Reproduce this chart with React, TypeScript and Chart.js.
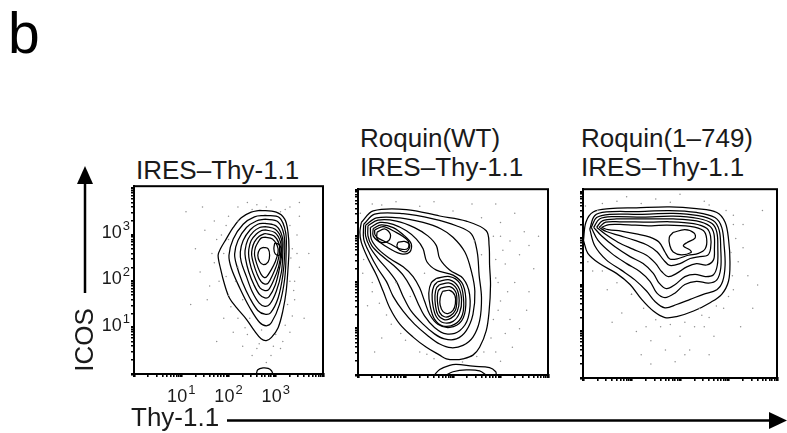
import { useEffect, useRef } from "react";
import { Chart, registerables } from "chart.js";

Chart.register(...registerables);

type Pt = [number, number];

// Axes are in decades of fluorescence: 0 = 10^0 ... 4 = 10^4
const DECADES = [0, 1, 2, 3];
const MINOR_STEPS = [1, 2, 3, 4, 5, 6, 7, 8, 9];
const LABELED_DECADES = [1, 2, 3];
const TICK_LABEL_BASE = "10";
const TICK_LABEL_EXPONENTS = ["1", "2", "3"];

const PANEL_LETTER = "b";
const TITLES_1 = ["IRES–Thy-1.1"];
const TITLES_2 = ["Roquin(WT)", "IRES–Thy-1.1"];
const TITLES_3 = ["Roquin(1–749)", "IRES–Thy-1.1"];
const Y_TITLE = "ICOS";
const X_TITLE = "Thy-1.1";

// ---------- Panel 1: IRES–Thy-1.1 ----------
const P1_CONTOURS: Pt[][] = [
  [[2.66,3.53],[3.01,3.49],[3.19,3.34],[3.26,3.05],[3.28,2.70],[3.26,2.28],[3.22,1.78],[3.15,1.36],[3.05,1.00],[2.91,0.79],[2.80,0.72],[2.69,0.76],[2.55,0.93],[2.38,1.18],[2.17,1.43],[2.02,1.64],[1.92,1.92],[1.83,2.28],[1.78,2.56],[1.83,2.70],[1.95,2.91],[2.10,3.16],[2.27,3.37],[2.48,3.49]],
  [[2.77,3.42],[3.08,3.37],[3.21,3.05],[3.22,2.63],[3.19,2.06],[3.08,1.50],[2.91,1.11],[2.80,1.04],[2.66,1.11],[2.45,1.43],[2.24,1.85],[2.06,2.28],[2.01,2.56],[2.10,2.91],[2.31,3.23],[2.55,3.39]],
  [[2.77,3.34],[3.05,3.28],[3.17,3.02],[3.19,2.63],[3.15,2.13],[3.05,1.64],[2.89,1.32],[2.77,1.29],[2.62,1.37],[2.45,1.64],[2.29,1.99],[2.17,2.35],[2.13,2.59],[2.20,2.88],[2.38,3.16],[2.59,3.30]],
  [[2.77,3.25],[3.01,3.19],[3.14,2.95],[3.15,2.63],[3.12,2.20],[3.01,1.78],[2.87,1.50],[2.77,1.46],[2.65,1.53],[2.50,1.78],[2.38,2.10],[2.27,2.42],[2.25,2.63],[2.31,2.88],[2.46,3.11],[2.62,3.23]],
  [[2.77,3.18],[2.99,3.12],[3.12,2.91],[3.13,2.63],[3.08,2.28],[2.99,1.92],[2.86,1.67],[2.77,1.64],[2.66,1.71],[2.54,1.92],[2.43,2.20],[2.36,2.49],[2.35,2.66],[2.41,2.90],[2.53,3.07],[2.66,3.16]],
  [[2.77,3.11],[2.98,3.05],[3.10,2.85],[3.11,2.63],[3.06,2.31],[2.96,2.03],[2.85,1.82],[2.77,1.80],[2.67,1.85],[2.57,2.05],[2.48,2.29],[2.43,2.52],[2.43,2.69],[2.48,2.88],[2.59,3.02],[2.69,3.09]],
  [[2.77,3.03],[2.96,2.98],[3.07,2.81],[3.08,2.63],[3.03,2.38],[2.93,2.13],[2.84,1.96],[2.77,1.94],[2.69,1.99],[2.60,2.17],[2.53,2.38],[2.49,2.56],[2.50,2.70],[2.55,2.85],[2.65,2.97]],
  [[2.77,2.95],[2.93,2.91],[3.03,2.77],[3.05,2.63],[2.99,2.42],[2.90,2.24],[2.81,2.10],[2.76,2.08],[2.69,2.15],[2.62,2.31],[2.57,2.47],[2.55,2.59],[2.57,2.73],[2.63,2.85],[2.69,2.93]],
  [[2.74,2.73],[2.84,2.70],[2.87,2.56],[2.84,2.42],[2.74,2.36],[2.66,2.42],[2.62,2.56],[2.66,2.69]],
  [[2.98,2.83],[3.08,2.78],[3.12,2.66],[3.07,2.56],[2.99,2.59],[2.96,2.70]],
];
const P1_OPEN: Pt[][] = [
  [[2.59,0],[2.62,0.09],[2.73,0.13],[2.84,0.12],[2.91,0.07],[2.94,0]],
];
const P1_DOTS: Pt[] = [
  [1.5,3.1],[1.7,2.4],[1.6,1.9],[1.9,1.2],[2.1,0.9],[2.3,0.6],[2.5,0.4],[2.9,0.4],[3.3,0.9],[3.4,1.6],
  [3.5,2.3],[3.45,3.0],[3.3,3.6],[2.9,3.75],[2.4,3.7],[2.0,3.4],[1.3,2.7],[1.2,1.5],[1.75,0.7],[3.1,0.55],
  [3.6,1.2],[3.7,2.6],[2.2,3.6],[1.85,3.0],[1.95,2.1],[2.05,1.45],[2.35,1.0],[2.6,0.55],[3.15,0.7],[3.35,1.25],
  [3.4,2.0],[3.35,2.7],[3.2,3.55],[2.6,3.65],[1.7,3.3],[1.4,2.2],[2.2,2.3],[3.5,3.4],[1.1,3.5],[2.8,0.25],
  [1.9,2.6],[2.0,2.9],[2.15,2.0],[2.3,1.6],[2.45,1.2],[2.7,0.95],[3.0,0.85],[3.25,1.5],[3.3,2.0],[3.32,2.5],
  [3.3,3.2],[3.1,3.5],[2.8,3.6],[2.5,3.55],[2.2,3.3],[1.95,3.2],[1.75,2.9],[1.65,2.6],[1.8,2.0],[2.0,1.7],
  [2.2,1.2],[2.4,0.85],[2.65,0.65],[2.95,0.6],[3.2,1.05],[3.38,1.8],[3.45,2.6],[3.5,3.7],[1.55,1.6],[1.45,3.6],
];

// ---------- Panel 2: Roquin(WT) IRES–Thy-1.1 ----------
const P2_CONTOURS: Pt[][] = [
  [[0.07,3.30],[0.32,3.55],[1.02,3.58],[1.72,3.44],[2.28,3.33],[2.70,3.12],[2.76,2.80],[2.77,2.38],[2.79,1.95],[2.76,1.38],[2.70,0.96],[2.56,0.60],[2.42,0.43],[2.21,0.35],[2.04,0.33],[1.86,0.35],[1.72,0.43],[1.44,0.60],[1.16,0.82],[0.88,1.10],[0.67,1.45],[0.53,1.81],[0.39,2.16],[0.21,2.52],[0.07,2.87],[0.04,3.09]],
  [[0.12,3.26],[0.35,3.48],[0.95,3.49],[1.58,3.38],[2.07,3.23],[2.39,3.05],[2.51,2.66],[2.55,2.16],[2.60,1.67],[2.56,1.17],[2.42,0.82],[2.21,0.64],[1.96,0.59],[1.72,0.67],[1.47,0.85],[1.19,1.10],[0.95,1.38],[0.74,1.70],[0.60,2.02],[0.42,2.30],[0.25,2.62],[0.12,2.94]],
  [[0.16,3.24],[0.39,3.40],[0.88,3.40],[1.37,3.30],[1.75,3.16],[2.00,2.98],[2.25,2.66],[2.39,2.23],[2.46,1.81],[2.42,1.31],[2.28,0.96],[2.07,0.78],[1.82,0.78],[1.61,0.89],[1.37,1.10],[1.12,1.38],[0.95,1.70],[0.81,2.02],[0.63,2.27],[0.42,2.52],[0.25,2.77],[0.16,3.01]],
  [[0.21,3.23],[0.42,3.35],[0.81,3.33],[1.19,3.19],[1.47,3.01],[1.65,2.80],[1.72,2.52],[1.93,2.27],[2.21,2.09],[2.35,1.74],[2.32,1.24],[2.14,0.96],[1.86,0.89],[1.61,1.03],[1.40,1.28],[1.26,1.56],[1.12,1.88],[0.95,2.16],[0.74,2.38],[0.49,2.59],[0.29,2.80],[0.21,3.01]],
  [[0.26,3.19],[0.46,3.30],[0.74,3.26],[1.02,3.12],[1.23,2.94],[1.37,2.73],[1.45,2.45],[1.65,2.27],[2.00,2.16],[2.21,1.95],[2.27,1.52],[2.18,1.17],[1.93,1.03],[1.68,1.10],[1.51,1.31],[1.40,1.60],[1.30,1.88],[1.16,2.13],[0.95,2.34],[0.67,2.52],[0.42,2.73],[0.28,2.94]],
  [[0.32,3.17],[0.49,3.25],[0.74,3.19],[0.98,3.01],[1.12,2.84],[1.09,2.66],[0.91,2.62],[0.67,2.73],[0.46,2.87],[0.32,3.01]],
  [[0.35,3.14],[0.53,3.21],[0.74,3.12],[1.05,2.91],[1.05,2.74],[0.88,2.73],[0.67,2.84],[0.46,2.94],[0.36,3.03]],
  [[0.40,3.09],[0.56,3.16],[0.68,3.05],[0.65,2.91],[0.49,2.87],[0.40,2.96]],
  [[0.84,2.87],[0.98,2.89],[1.09,2.80],[1.02,2.67],[0.88,2.70],[0.82,2.79]],
  [[1.65,2.09],[1.93,2.13],[2.14,1.99],[2.22,1.67],[2.20,1.31],[2.04,1.10],[1.79,1.06],[1.61,1.21],[1.52,1.49],[1.49,1.77],[1.54,1.99]],
  [[1.68,2.02],[1.93,2.06],[2.11,1.91],[2.18,1.63],[2.14,1.35],[2.00,1.16],[1.80,1.13],[1.65,1.26],[1.58,1.49],[1.56,1.74],[1.60,1.93]],
  [[1.71,1.95],[1.93,1.99],[2.08,1.86],[2.13,1.61],[2.09,1.38],[1.96,1.23],[1.81,1.20],[1.68,1.31],[1.63,1.51],[1.62,1.72],[1.65,1.88]],
  [[1.74,1.88],[1.93,1.91],[2.06,1.79],[2.08,1.60],[2.05,1.40],[1.94,1.28],[1.82,1.26],[1.72,1.35],[1.68,1.52],[1.67,1.70],[1.69,1.82]],
  [[1.78,1.81],[1.93,1.83],[2.04,1.72],[2.05,1.54],[2.00,1.40],[1.89,1.33],[1.79,1.37],[1.73,1.51],[1.73,1.67]],
];
const P2_OPEN: Pt[][] = [
  [[1.61,0],[1.72,0.12],[1.93,0.21],[2.07,0.23],[2.42,0.19],[2.77,0.16],[2.90,0.07],[2.91,0]],
  [[1.86,0],[2.00,0.07],[2.28,0.11],[2.56,0.09],[2.70,0]],
];
const P2_DOTS: Pt[] = [
  [3.0,3.3],[3.2,2.9],[3.1,2.4],[3.3,2.0],[3.0,1.6],[3.2,1.2],[3.4,2.6],[3.5,3.1],[2.9,3.7],[2.4,3.7],
  [1.6,3.75],[0.8,3.75],[0.3,3.7],[0.1,2.2],[0.3,1.8],[0.6,1.3],[0.9,0.9],[1.3,0.5],[1.6,0.35],[2.9,0.5],
  [3.1,0.9],[3.6,1.8],[3.7,2.3],[3.3,3.5],[0.2,1.5],[0.5,0.8],[2.95,2.0],[3.05,2.7],[2.85,1.2],[2.65,0.5],
  [3.8,3.0],[3.55,1.4],
  [2.85,3.0],[2.9,2.5],[2.9,2.1],[2.95,1.4],[2.8,0.8],[2.5,0.4],[2.2,0.28],[1.45,0.45],[1.0,0.75],[0.7,1.1],
  [0.45,1.55],[0.3,2.0],[0.12,2.5],[0.05,3.5],[0.5,3.68],[1.3,3.65],[2.0,3.55],[2.6,3.4],[3.0,3.0],[3.15,1.8],
  [2.6,2.6],[2.45,2.9],[1.1,1.7],[0.8,2.0],[1.4,2.2],[3.4,1.0],[3.25,0.6],[0.35,0.5],[3.6,2.8],[3.0,0.3],
];

// ---------- Panel 3: Roquin(1–749) IRES–Thy-1.1 ----------
const P3_CONTOURS: Pt[][] = [
  [[0.01,2.96],[0.06,3.35],[0.21,3.57],[0.55,3.64],[1.10,3.66],[1.79,3.68],[2.34,3.64],[2.76,3.56],[2.93,3.35],[3.00,2.99],[3.03,2.50],[3.00,2.08],[2.86,1.80],[2.62,1.62],[2.28,1.44],[1.93,1.32],[1.69,1.30],[1.45,1.44],[1.21,1.69],[0.97,2.01],[0.69,2.25],[0.34,2.46],[0.10,2.68]],
  [[0.14,3.20],[0.24,3.49],[0.48,3.57],[1.10,3.58],[1.79,3.60],[2.34,3.56],[2.72,3.45],[2.86,3.24],[2.91,2.85],[2.93,2.43],[2.88,2.08],[2.76,1.90],[2.48,1.80],[2.21,1.69],[1.93,1.58],[1.69,1.51],[1.48,1.65],[1.31,1.87],[1.07,2.11],[0.79,2.32],[0.48,2.54],[0.24,2.85]],
  [[0.17,3.24],[0.28,3.45],[0.55,3.52],[1.17,3.52],[1.86,3.54],[2.38,3.49],[2.69,3.38],[2.81,3.17],[2.84,2.78],[2.84,2.36],[2.76,2.11],[2.59,2.04],[2.34,2.08],[2.10,2.01],[1.90,1.83],[1.69,1.73],[1.52,1.83],[1.38,2.08],[1.17,2.29],[0.90,2.46],[0.59,2.68],[0.31,2.96]],
  [[0.22,3.24],[0.34,3.42],[0.62,3.47],[1.24,3.46],[1.86,3.48],[2.38,3.43],[2.66,3.32],[2.76,3.13],[2.78,2.78],[2.77,2.43],[2.69,2.22],[2.52,2.18],[2.31,2.23],[2.10,2.18],[1.90,2.01],[1.72,1.92],[1.57,2.04],[1.45,2.25],[1.24,2.46],[0.97,2.61],[0.66,2.82],[0.38,3.06]],
  [[0.28,3.24],[0.40,3.38],[0.69,3.42],[1.31,3.42],[1.86,3.42],[2.34,3.38],[2.61,3.27],[2.70,3.10],[2.71,2.78],[2.69,2.54],[2.55,2.43],[2.34,2.46],[2.14,2.39],[1.93,2.25],[1.76,2.18],[1.62,2.29],[1.50,2.46],[1.31,2.64],[1.03,2.77],[0.72,2.92],[0.45,3.10]],
  [[0.33,3.24],[0.47,3.35],[0.76,3.36],[1.38,3.35],[1.79,3.36],[2.28,3.32],[2.55,3.22],[2.63,3.05],[2.63,2.78],[2.57,2.64],[2.41,2.61],[2.21,2.57],[2.00,2.46],[1.79,2.42],[1.66,2.54],[1.53,2.71],[1.34,2.85],[1.07,2.96],[0.76,3.06],[0.48,3.15]],
  [[0.38,3.24],[0.54,3.30],[0.83,3.30],[1.41,3.27],[1.72,3.29],[2.21,3.26],[2.48,3.17],[2.55,2.99],[2.52,2.78],[2.38,2.68],[2.17,2.64],[1.97,2.57],[1.79,2.56],[1.69,2.71],[1.57,2.92],[1.38,3.03],[1.10,3.10],[0.79,3.16],[0.52,3.19]],
  [[1.86,3.13],[2.10,3.19],[2.29,3.12],[2.31,3.01],[2.14,2.91],[2.07,2.84],[2.21,2.75],[2.23,2.70],[2.03,2.65],[1.86,2.71],[1.79,2.85],[1.78,3.03]],
];
const P3_OPEN: Pt[][] = [];
const P3_DOTS: Pt[] = [
  [0.5,1.9],[0.8,1.4],[1.1,1.0],[1.4,0.8],[1.7,0.6],[2.0,0.9],[2.3,1.1],[2.6,1.3],[2.9,1.5],[3.1,1.9],
  [3.2,2.5],[3.15,3.0],[3.1,3.5],[2.5,3.8],[1.5,3.85],[0.7,3.8],[0.3,3.6],[0.2,2.3],[1.2,0.5],[1.9,0.35],
  [2.2,0.6],[1.6,1.1],[2.7,0.9],[3.4,2.2],[3.3,3.3],[0.9,3.9],[2.0,3.95],[3.5,1.5],[1.0,1.8],[2.4,1.5],
  [3.05,2.7],[3.08,2.2],[3.0,1.75],[2.75,1.55],[2.45,1.35],[2.1,1.2],[1.8,1.15],[1.5,1.25],[1.25,1.5],[1.0,1.8],
  [0.7,2.05],[0.4,2.3],[0.1,2.5],[0.05,3.7],[0.4,3.75],[1.2,3.75],[1.8,3.78],[2.6,3.72],[2.95,3.6],[3.1,3.3],
  [3.3,2.8],[3.6,2.0],[2.1,0.5],[1.4,0.3],[2.6,0.5],[0.6,1.2],[3.25,1.1],[3.7,3.6],[1.3,1.1],[2.5,1.1],
];

const TICK_VALUES: number[] = [
  ...DECADES.flatMap((d) => MINOR_STEPS.map((k) => d + Math.log10(k))),
  4,
];

const FONT = "'Liberation Sans', Arial, Helvetica, sans-serif";

const framePlugin = {
  id: "frameBox",
  afterDatasetsDraw(chart: any) {
    const { ctx, chartArea: a } = chart;
    ctx.save();
    ctx.strokeStyle = "#000";
    ctx.lineWidth = 2;
    ctx.strokeRect(a.left, a.top, a.right - a.left, a.bottom - a.top);
    ctx.restore();
  },
};

// Decade tick labels "10^n" with a true superscript, placed by the chart's scales.
const decadeLabelPlugin = {
  id: "decadeLabels",
  afterDraw(chart: any, _args: any, opts: any) {
    if (!opts || !opts.show) return;
    const { ctx, chartArea: a } = chart;
    const xs = chart.scales.x;
    const ys = chart.scales.y;
    const baseFont = `18px ${FONT}`;
    const supFont = `13px ${FONT}`;
    ctx.save();
    ctx.fillStyle = "#1a1a1a";
    ctx.textBaseline = "alphabetic";
    ctx.textAlign = "left";
    LABELED_DECADES.forEach((d, i) => {
      const exp = TICK_LABEL_EXPONENTS[i];
      ctx.font = baseFont;
      const wb = ctx.measureText(TICK_LABEL_BASE).width;
      ctx.font = supFont;
      const ws = ctx.measureText(exp).width;
      const total = wb + 1 + ws;
      // x-axis label
      const px = xs.getPixelForValue(d);
      const bx = px - total / 2;
      const by = a.bottom + 28;
      ctx.font = baseFont;
      ctx.fillText(TICK_LABEL_BASE, bx, by);
      ctx.font = supFont;
      ctx.fillText(exp, bx + wb + 1, by - 8);
      // y-axis label
      const py = ys.getPixelForValue(d);
      const rx = a.left - 4 - total;
      const ry = py + 3;
      ctx.font = baseFont;
      ctx.fillText(TICK_LABEL_BASE, rx, ry);
      ctx.font = supFont;
      ctx.fillText(exp, rx + wb + 1, ry - 8);
    });
    ctx.restore();
  },
};

type Frame = { l: number; t: number; r: number; b: number };

function isDecade(v: number) {
  return Math.abs(v - Math.round(v)) < 1e-9;
}

function makeAxis(max: number, isX: boolean, size: number) {
  return {
    type: "linear",
    min: 0,
    max,
    afterBuildTicks: (axis: any) => {
      axis.ticks = TICK_VALUES.filter((v) => v <= max + 1e-9).map((v) => ({
        value: v,
        major: isDecade(v),
      }));
    },
    afterFit: (axis: any) => {
      if (isX) axis.height = size;
      else axis.width = size;
    },
    ticks: {
      autoSkip: false,
      maxRotation: 0,
      minRotation: 0,
      padding: 0,
      color: "#1a1a1a",
      font: { family: FONT, size: 12 },
      callback: () => "",
    },
    grid: {
      drawOnChartArea: false,
      drawTicks: true,
      tickLength: 3,
      color: "#000",
      tickColor: "#000",
      tickWidth: (c: any) => (c.tick && c.tick.major ? 2.6 : 1.6),
      lineWidth: (c: any) => (c.tick && c.tick.major ? 2.6 : 1.6),
    },
    border: { display: true, color: "#000", width: 2 },
  };
}

function FlowPanel(props: {
  frame: Frame;
  xMax: number;
  yMax: number;
  contours: Pt[][];
  open: Pt[][];
  dots: Pt[];
  showLabels: boolean;
}) {
  const ref = useRef<HTMLCanvasElement | null>(null);
  const { frame, xMax, yMax, contours, open, dots, showLabels } = props;
  const padL = 45, padT = 4, padR = 4, padB = 36;
  const W = frame.r - frame.l + padL + padR;
  const H = frame.b - frame.t + padT + padB;

  useEffect(() => {
    if (!ref.current) return;
    const toXY = (pts: Pt[]) => pts.map(([x, y]) => ({ x, y }));
    const lineStyle = {
      showLine: true,
      pointRadius: 0,
      pointHoverRadius: 0,
      borderColor: "#000",
      borderWidth: 1.25,
      tension: 0.35,
      fill: false,
    };
    const datasets: any[] = [
      {
        data: toXY(dots),
        showLine: false,
        pointRadius: 0.75,
        pointBorderWidth: 0,
        pointBackgroundColor: "#909090",
      },
      ...contours.map((c) => ({ ...lineStyle, data: toXY([...c, c[0]]) })),
      ...open.map((c) => ({ ...lineStyle, data: toXY(c) })),
    ];
    const chart = new Chart(ref.current, {
      type: "scatter",
      data: { datasets },
      options: {
        responsive: false,
        animation: false,
        events: [],
        layout: { padding: { left: 0, top: padT, right: padR, bottom: 0 } },
        plugins: {
          legend: { display: false },
          tooltip: { enabled: false },
          title: { display: false },
          decadeLabels: { show: showLabels },
        } as any,
        scales: {
          x: makeAxis(xMax, true, padB) as any,
          y: makeAxis(yMax, false, padL) as any,
        },
      },
      plugins: [framePlugin, decadeLabelPlugin],
    });
    return () => chart.destroy();
  }, []);

  return (
    <canvas
      ref={ref}
      width={W}
      height={H}
      style={{ position: "absolute", left: frame.l - padL, top: frame.t - padT, width: W, height: H }}
    />
  );
}

function Title({ lines, left, top }: { lines: string[]; left: number; top: number }) {
  return (
    <div
      style={{
        position: "absolute",
        left,
        top,
        fontFamily: FONT,
        fontSize: 26,
        lineHeight: "29px",
        color: "#1a1a1a",
        whiteSpace: "nowrap",
      }}
    >
      {lines.map((l, i) => (
        <div key={i}>{l}</div>
      ))}
    </div>
  );
}

export default function App() {
  return (
    <div
      style={{
        position: "absolute",
        left: 0,
        top: 0,
        width: 787,
        height: 433,
        background: "#fff",
        overflow: "hidden",
      }}
    >
      <div
        style={{
          position: "absolute",
          left: 8,
          top: 5,
          fontFamily: FONT,
          fontSize: 57,
          lineHeight: "57px",
          color: "#000",
        }}
      >
        {PANEL_LETTER}
      </div>

      <Title lines={TITLES_1} left={136} top={156} />
      <Title lines={TITLES_2} left={360} top={124} />
      <Title lines={TITLES_3} left={581} top={124} />

      <FlowPanel frame={{ l: 134, t: 183, r: 323, b: 374 }} xMax={4} yMax={4.05} contours={P1_CONTOURS} open={P1_OPEN} dots={P1_DOTS} showLabels={true} />
      <FlowPanel frame={{ l: 358, t: 186, r: 548, b: 375 }} xMax={4} yMax={4.02} contours={P2_CONTOURS} open={P2_OPEN} dots={P2_DOTS} showLabels={false} />
      <FlowPanel frame={{ l: 583, t: 186, r: 777, b: 378 }} xMax={4} yMax={4.06} contours={P3_CONTOURS} open={P3_OPEN} dots={P3_DOTS} showLabels={false} />

      <svg width={787} height={433} style={{ position: "absolute", left: 0, top: 0, pointerEvents: "none" }}>
        <line x1={85} y1={180} x2={85} y2={293} stroke="#000" strokeWidth={2.5} />
        <polygon points="77,184 93,184 85,166" fill="#000" />
        <line x1={227} y1={420.5} x2={772} y2={420.5} stroke="#000" strokeWidth={2.5} />
        <polygon points="769,412 769,429 787,420.5" fill="#000" />
      </svg>

      <div
        style={{
          position: "absolute",
          left: 84,
          top: 340,
          transform: "translate(-50%, -50%) rotate(-90deg)",
          fontFamily: FONT,
          fontSize: 26,
          lineHeight: "26px",
          color: "#1a1a1a",
          whiteSpace: "nowrap",
        }}
      >
        {Y_TITLE}
      </div>
      <div
        style={{
          position: "absolute",
          left: 131,
          top: 404,
          fontFamily: FONT,
          fontSize: 26,
          lineHeight: "26px",
          color: "#1a1a1a",
          whiteSpace: "nowrap",
        }}
      >
        {X_TITLE}
      </div>
    </div>
  );
}
